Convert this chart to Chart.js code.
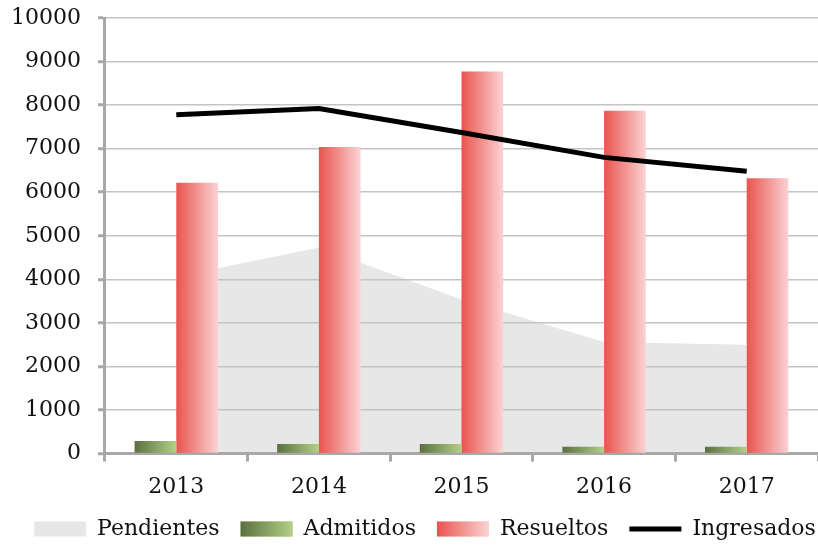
<!DOCTYPE html>
<html>
<head>
<meta charset="utf-8">
<script src="https://cdn.jsdelivr.net/npm/chart.js@4.4.1/dist/chart.umd.min.js"></script>
<style>
    html, body { margin: 0; padding: 0; background: #fff; }
</style>
</head>
<body>
<canvas id="myChart" width="818" height="549"></canvas>
<script>
// datos
const years = ['2013', '2014', '2015', '2016', '2017'];
const pendientes = [4060, 4730, 3540, 2560, 2500];
const admitidos = [290, 220, 220, 160, 160];
const resueltos = [6220, 7040, 8770, 7870, 6320];
const ingresados = [7780, 7920, 7370, 6800, 6480];
const yTicks = [0, 10000, 1000]; // min, max, paso

const FONT = "'DejaVu Serif', serif";
const FONT_SIZE = 22;
const LEG_SIZE = 22;
const CAT_PCT = 0.585;
const BOX_W = 52;
const BOX_H = 15;
const LEG_SHIFT = { x: 17, y: -15 }; // desplazamiento fino de la leyenda

const greenStops = ['#5b6f40', '#b2d186'];
const redStops = ['#ea534e', '#fad3d3'];

// degradado horizontal por barra (izquierda oscuro -> derecha claro)
function barFill(stops, side) {
    return function(ctx) {
        const chart = ctx.chart;
        const xs = chart.scales.x;
        if (ctx.type !== 'data' || !xs || !chart.chartArea) return stops[0];
        const cx = xs.getPixelForValue(ctx.dataIndex);
        const w = xs.width / years.length * CAT_PCT / 2;
        const x0 = side < 0 ? cx - w : cx;
        const g = chart.ctx.createLinearGradient(x0, 0, x0 + w, 0);
        g.addColorStop(0, stops[0]);
        g.addColorStop(1, stops[1]);
        return g;
    };
}

const legendTweaks = {
    id: 'legendTweaks',
    // mueve la leyenda sin tocar el area del grafico
    afterLayout(chart) {
        const lg = chart.legend;
        lg.left += LEG_SHIFT.x; lg.right += LEG_SHIFT.x;
        lg.top += LEG_SHIFT.y; lg.bottom += LEG_SHIFT.y;
    },
    // pinta los cuadros de la leyenda con el mismo degradado
    afterDraw(chart) {
        const legend = chart.legend;
        const c = chart.ctx;
        const map = { 'Admitidos': greenStops, 'Resueltos': redStops };
        legend.legendItems.forEach((item, i) => {
            const stops = map[item.text];
            if (!stops) return;
            const box = legend.legendHitBoxes[i];
            const x = box.left;
            const y = box.top + LEG_SIZE / 2 - BOX_H / 2;
            const g = c.createLinearGradient(x, 0, x + BOX_W, 0);
            g.addColorStop(0, stops[0]);
            g.addColorStop(1, stops[1]);
            c.save();
            c.fillStyle = g;
            c.fillRect(x, y, BOX_W, BOX_H);
            c.restore();
        });
    }
};

const ctx = document.getElementById('myChart').getContext('2d');
new Chart(ctx, {
    type: 'bar',
    data: {
        labels: years,
        datasets: [{
            type: 'line',
            label: 'Pendientes',
            data: pendientes,
            backgroundColor: '#e7e7e7',
            borderWidth: 0,
            pointRadius: 0,
            pointStyle: 'rect',
            fill: 'origin',
            order: 3
        }, {
            label: 'Admitidos',
            data: admitidos,
            backgroundColor: barFill(greenStops, -1),
            borderWidth: 0,
            pointStyle: 'rect',
            order: 2
        }, {
            label: 'Resueltos',
            data: resueltos,
            backgroundColor: barFill(redStops, 1),
            borderWidth: 0,
            pointStyle: 'rect',
            order: 2
        }, {
            type: 'line',
            label: 'Ingresados',
            data: ingresados,
            borderColor: '#000',
            backgroundColor: '#000',
            borderWidth: 5,
            pointRadius: 0,
            pointStyle: 'line',
            fill: false,
            tension: 0,
            order: 0
        }]
    },
    options: {
        responsive: false,
        animation: false,
        categoryPercentage: CAT_PCT,
        barPercentage: 1,
        layout: {
            padding: { top: 0, left: -6, right: -4, bottom: -16 }
        },
        scales: {
            x: {
                offset: true,
                grid: {
                    offset: true,
                    drawOnChartArea: false,
                    tickColor: '#a8a8a8',
                    tickWidth: 3,
                    tickLength: 8
                },
                border: { color: '#a8a8a8', width: 3 },
                ticks: {
                    color: '#111',
                    padding: 12,
                    font: { family: FONT, size: FONT_SIZE }
                }
            },
            y: {
                min: yTicks[0],
                max: yTicks[1],
                grid: {
                    color: '#c4c4c4',
                    lineWidth: 1.5,
                    tickColor: '#a8a8a8',
                    tickWidth: 3,
                    tickLength: 7
                },
                border: { color: '#a8a8a8', width: 3 },
                ticks: {
                    stepSize: yTicks[2],
                    color: '#111',
                    padding: 17,
                    font: { family: FONT, size: FONT_SIZE },
                    callback: (v) => String(v)
                },
                // el margen de las etiquetas no debe empujar el area hacia abajo
                afterFit: (scale) => {
                    scale.paddingTop = 18;
                    scale.paddingBottom = 12;
                }
            }
        },
        plugins: {
            filler: { drawTime: 'beforeDraw' },
            tooltip: { enabled: false },
            legend: {
                position: 'bottom',
                labels: {
                    usePointStyle: true,
                    pointStyleWidth: BOX_W,
                    boxHeight: BOX_H,
                    padding: 21,
                    color: '#111',
                    font: { family: FONT, size: LEG_SIZE },
                    sort: (a, b) => a.datasetIndex - b.datasetIndex
                }
            }
        }
    },
    plugins: [legendTweaks]
});
</script>
</body>
</html>
